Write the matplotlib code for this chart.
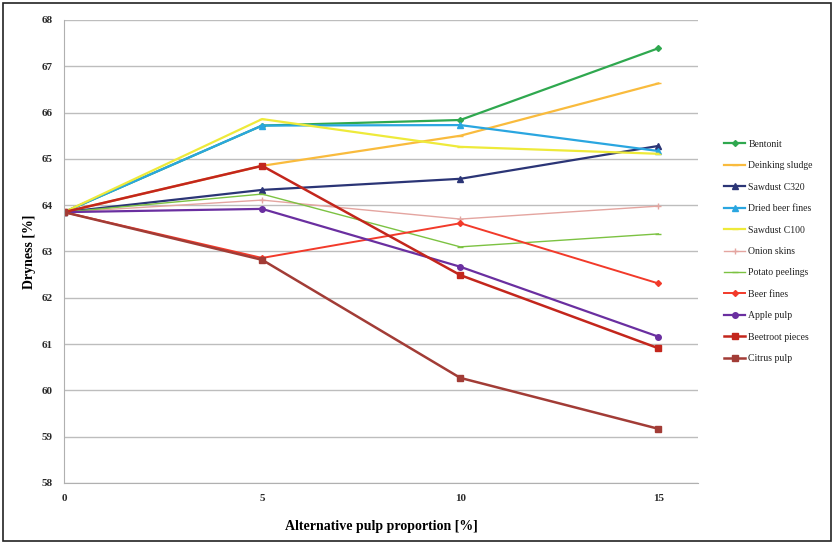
import matplotlib
matplotlib.use('Agg')
import matplotlib.pyplot as plt
from matplotlib.patches import Rectangle

# alternative pulp proportion [%]
proportion = [0, 5, 10, 15]

series_names = ['Bentonit', 'Deinking sludge', 'Sawdust C320', 'Dried beer fines',
                'Sawdust C100', 'Onion skins', 'Potato peelings', 'Beer fines',
                'Apple pulp', 'Beetroot pieces', 'Citrus pulp']

bentonit = [63.85, 65.72, 65.84, 67.39]
deinking_sludge = [63.85, 64.85, 65.5, 66.63]
sawdust_c320 = [63.85, 64.33, 64.57, 65.28]
dried_beer_fines = [63.85, 65.72, 65.73, 65.17]
sawdust_c100 = [63.85, 65.86, 65.26, 65.11]
onion_skins = [63.85, 64.11, 63.7, 63.98]
potato_peelings = [63.85, 64.24, 63.1, 63.38]
beer_fines = [63.85, 62.86, 63.61, 62.31]
apple_pulp = [63.85, 63.92, 62.67, 61.16]
beetroot_pieces = [63.85, 64.85, 62.49, 60.91]
citrus_pulp = [63.85, 62.82, 60.27, 59.17]

values = [bentonit, deinking_sludge, sawdust_c320, dried_beer_fines, sawdust_c100,
          onion_skins, potato_peelings, beer_fines, apple_pulp, beetroot_pieces, citrus_pulp]

colors = ['#2fa84f', '#f9bb3d', '#2b3576', '#2aa6e0', '#eeea3a', '#e4a5a0',
          '#7cc242', '#f23a2a', '#6a2fa0', '#c3261c', '#a23c36']
markers = ['D', '_', '^', '^', '_', '+', '_', 'D', 'o', 's', 's']
msizes = [3, 4, 4, 4, 4, 5, 4, 3, 4, 5, 5]
lwidths = [1.6, 1.6, 1.6, 1.6, 1.6, 1.0, 1.0, 1.4, 1.6, 1.8, 1.8]

plt.rcParams['font.family'] = ['Liberation Serif', 'DejaVu Serif']

fig = plt.figure(figsize=(8.34, 5.46), dpi=100)
ax = fig.add_axes([0.0767, 0.1154, 0.7603, 0.848])

for name, vals, c, m, ms, lw in zip(series_names, values, colors, markers, msizes, lwidths):
    ax.plot(proportion, vals, color=c, marker=m, markersize=ms, linewidth=lw,
            markeredgecolor=c, label=name)

ax.set_xlim(0, 16)
ax.set_ylim(58, 68)
ax.set_xticks([0, 5, 10, 15])
ax.set_yticks(range(58, 69))
ax.grid(axis='y', color='#bdbdbd', linewidth=1.0)
ax.set_axisbelow(True)
for s in ['top', 'right']:
    ax.spines[s].set_visible(False)
for s in ['left', 'bottom']:
    ax.spines[s].set_color('#b0b0b0')
ax.tick_params(length=0, labelsize=8, colors='#2a2a2a', pad=8)
for lbl in ax.get_xticklabels() + ax.get_yticklabels():
    lbl.set_fontweight('bold')

ax.set_xlabel('Alternative pulp proportion [%]', fontsize=10, fontweight='bold', labelpad=12)
ax.set_ylabel('Dryness [%]', fontsize=10, fontweight='bold', labelpad=4)

leg = ax.legend(loc='center left', bbox_to_anchor=(1.027, 0.50), frameon=False,
                fontsize=7, handlelength=2.2, handletextpad=0.3, labelspacing=1.28)
for t in leg.get_texts():
    t.set_color('#222222')

# frame around the whole picture
fig.patches.append(Rectangle((0.004, 0.01), 0.992, 0.984, transform=fig.transFigure,
                             fill=False, edgecolor='#222222', linewidth=1.2))

fig.savefig('out.png', dpi=100)
